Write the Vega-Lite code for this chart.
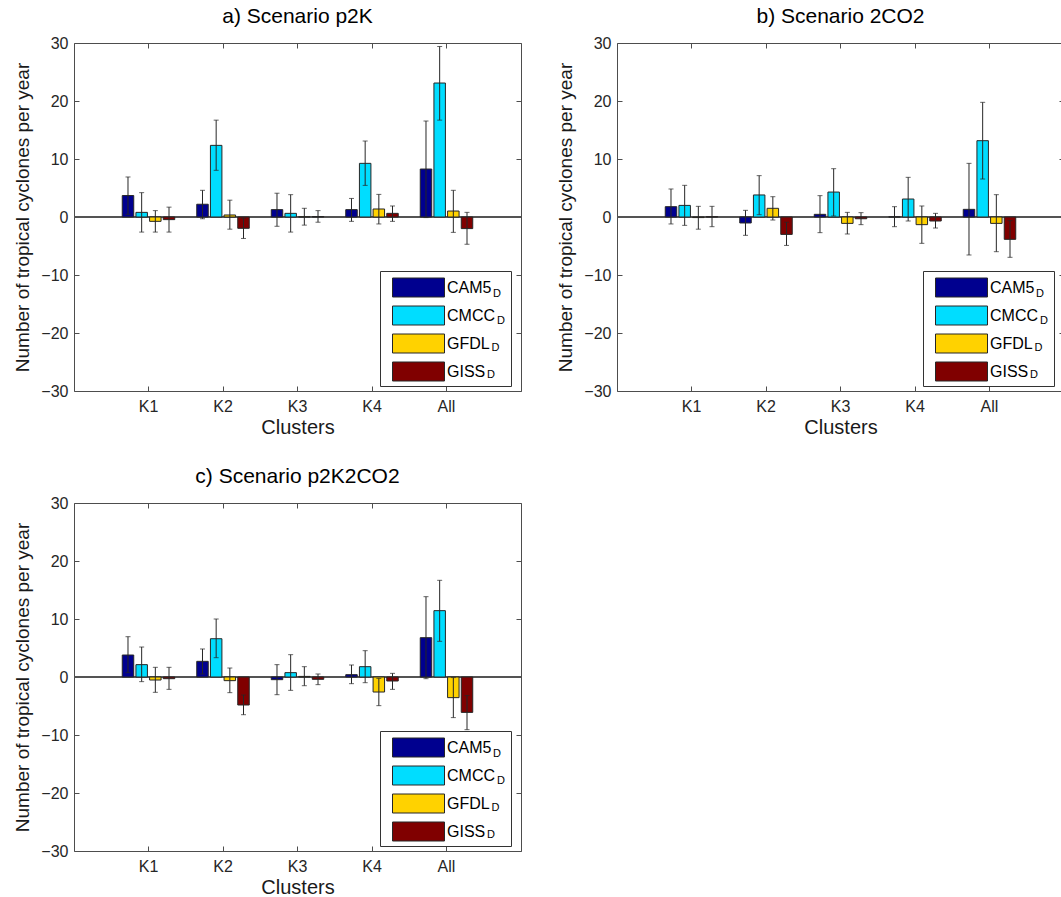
{
  "$schema": "https://vega.github.io/schema/vega-lite/v6.json",
  "padding": {"left": 13, "top": 6, "right": 0, "bottom": 0},
  "data": {"values": [
    {"scenario": "p2K", "cluster": "K1", "model": "CAM5", "value": 3.7, "lo": 0.45, "hi": 6.9},
    {"scenario": "p2K", "cluster": "K1", "model": "CMCC", "value": 0.8, "lo": -2.6, "hi": 4.2},
    {"scenario": "p2K", "cluster": "K1", "model": "GFDL", "value": -0.75, "lo": -2.6, "hi": 1.1},
    {"scenario": "p2K", "cluster": "K1", "model": "GISS", "value": -0.45, "lo": -2.6, "hi": 1.7},
    {"scenario": "p2K", "cluster": "K2", "model": "CAM5", "value": 2.2, "lo": -0.3, "hi": 4.6},
    {"scenario": "p2K", "cluster": "K2", "model": "CMCC", "value": 12.35, "lo": 8.05, "hi": 16.7},
    {"scenario": "p2K", "cluster": "K2", "model": "GFDL", "value": 0.35, "lo": -2.1, "hi": 2.9},
    {"scenario": "p2K", "cluster": "K2", "model": "GISS", "value": -1.95, "lo": -3.7, "hi": -0.2},
    {"scenario": "p2K", "cluster": "K3", "model": "CAM5", "value": 1.27, "lo": -1.6, "hi": 4.1},
    {"scenario": "p2K", "cluster": "K3", "model": "CMCC", "value": 0.63, "lo": -2.6, "hi": 3.85},
    {"scenario": "p2K", "cluster": "K3", "model": "GFDL", "value": 0.05, "lo": -1.4, "hi": 1.5},
    {"scenario": "p2K", "cluster": "K3", "model": "GISS", "value": 0.08, "lo": -0.9, "hi": 1.1},
    {"scenario": "p2K", "cluster": "K4", "model": "CAM5", "value": 1.27, "lo": -0.75, "hi": 3.2},
    {"scenario": "p2K", "cluster": "K4", "model": "CMCC", "value": 9.25, "lo": 5.45, "hi": 13.1},
    {"scenario": "p2K", "cluster": "K4", "model": "GFDL", "value": 1.38, "lo": -1.2, "hi": 3.9},
    {"scenario": "p2K", "cluster": "K4", "model": "GISS", "value": 0.63, "lo": -0.75, "hi": 1.9},
    {"scenario": "p2K", "cluster": "All", "model": "CAM5", "value": 8.27, "lo": -0.1, "hi": 16.55},
    {"scenario": "p2K", "cluster": "All", "model": "CMCC", "value": 23.1, "lo": 16.7, "hi": 29.4},
    {"scenario": "p2K", "cluster": "All", "model": "GFDL", "value": 1.03, "lo": -2.65, "hi": 4.6},
    {"scenario": "p2K", "cluster": "All", "model": "GISS", "value": -2.0, "lo": -4.7, "hi": 0.8},
    {"scenario": "2CO2", "cluster": "K1", "model": "CAM5", "value": 1.78, "lo": -1.2, "hi": 4.83},
    {"scenario": "2CO2", "cluster": "K1", "model": "CMCC", "value": 2.0, "lo": -1.44, "hi": 5.46},
    {"scenario": "2CO2", "cluster": "K1", "model": "GFDL", "value": -0.1, "lo": -2.1, "hi": 1.84},
    {"scenario": "2CO2", "cluster": "K1", "model": "GISS", "value": 0.05, "lo": -1.67, "hi": 1.84},
    {"scenario": "2CO2", "cluster": "K2", "model": "CAM5", "value": -1.03, "lo": -3.16, "hi": 1.15},
    {"scenario": "2CO2", "cluster": "K2", "model": "CMCC", "value": 3.8, "lo": 0.4, "hi": 7.13},
    {"scenario": "2CO2", "cluster": "K2", "model": "GFDL", "value": 1.5, "lo": -0.52, "hi": 3.5},
    {"scenario": "2CO2", "cluster": "K2", "model": "GISS", "value": -3.0, "lo": -4.9, "hi": -0.9},
    {"scenario": "2CO2", "cluster": "K3", "model": "CAM5", "value": 0.46, "lo": -2.7, "hi": 3.68},
    {"scenario": "2CO2", "cluster": "K3", "model": "CMCC", "value": 4.3, "lo": 0.17, "hi": 8.33},
    {"scenario": "2CO2", "cluster": "K3", "model": "GFDL", "value": -1.1, "lo": -2.93, "hi": 0.8},
    {"scenario": "2CO2", "cluster": "K3", "model": "GISS", "value": -0.3, "lo": -1.32, "hi": 0.75},
    {"scenario": "2CO2", "cluster": "K4", "model": "CAM5", "value": 0.02, "lo": -1.67, "hi": 1.78},
    {"scenario": "2CO2", "cluster": "K4", "model": "CMCC", "value": 3.1, "lo": -0.69, "hi": 6.84},
    {"scenario": "2CO2", "cluster": "K4", "model": "GFDL", "value": -1.32, "lo": -4.54, "hi": 1.9},
    {"scenario": "2CO2", "cluster": "K4", "model": "GISS", "value": -0.69, "lo": -1.9, "hi": 0.63},
    {"scenario": "2CO2", "cluster": "All", "model": "CAM5", "value": 1.32, "lo": -6.55, "hi": 9.25},
    {"scenario": "2CO2", "cluster": "All", "model": "CMCC", "value": 13.16, "lo": 6.55, "hi": 19.77},
    {"scenario": "2CO2", "cluster": "All", "model": "GFDL", "value": -1.1, "lo": -5.98, "hi": 3.85},
    {"scenario": "2CO2", "cluster": "All", "model": "GISS", "value": -3.85, "lo": -6.95, "hi": -0.63},
    {"scenario": "p2K2CO2", "cluster": "K1", "model": "CAM5", "value": 3.79, "lo": 0.75, "hi": 6.95},
    {"scenario": "p2K2CO2", "cluster": "K1", "model": "CMCC", "value": 2.13, "lo": -0.8, "hi": 5.17},
    {"scenario": "p2K2CO2", "cluster": "K1", "model": "GFDL", "value": -0.52, "lo": -2.64, "hi": 1.67},
    {"scenario": "p2K2CO2", "cluster": "K1", "model": "GISS", "value": -0.29, "lo": -2.13, "hi": 1.67},
    {"scenario": "p2K2CO2", "cluster": "K2", "model": "CAM5", "value": 2.7, "lo": 0.52, "hi": 4.83},
    {"scenario": "p2K2CO2", "cluster": "K2", "model": "CMCC", "value": 6.6, "lo": 3.33, "hi": 10.0},
    {"scenario": "p2K2CO2", "cluster": "K2", "model": "GFDL", "value": -0.63, "lo": -2.7, "hi": 1.55},
    {"scenario": "p2K2CO2", "cluster": "K2", "model": "GISS", "value": -4.83, "lo": -6.5, "hi": -3.1},
    {"scenario": "p2K2CO2", "cluster": "K3", "model": "CAM5", "value": -0.46, "lo": -3.05, "hi": 2.13},
    {"scenario": "p2K2CO2", "cluster": "K3", "model": "CMCC", "value": 0.75, "lo": -2.3, "hi": 3.85},
    {"scenario": "p2K2CO2", "cluster": "K3", "model": "GFDL", "value": 0.1, "lo": -1.5, "hi": 1.78},
    {"scenario": "p2K2CO2", "cluster": "K3", "model": "GISS", "value": -0.4, "lo": -1.32, "hi": 0.52},
    {"scenario": "p2K2CO2", "cluster": "K4", "model": "CAM5", "value": 0.4, "lo": -1.15, "hi": 2.07},
    {"scenario": "p2K2CO2", "cluster": "K4", "model": "CMCC", "value": 1.78, "lo": -0.98, "hi": 4.54},
    {"scenario": "p2K2CO2", "cluster": "K4", "model": "GFDL", "value": -2.59, "lo": -4.94, "hi": -0.24},
    {"scenario": "p2K2CO2", "cluster": "K4", "model": "GISS", "value": -0.69, "lo": -2.13, "hi": 0.63},
    {"scenario": "p2K2CO2", "cluster": "All", "model": "CAM5", "value": 6.78, "lo": -0.29, "hi": 13.85},
    {"scenario": "p2K2CO2", "cluster": "All", "model": "CMCC", "value": 11.44, "lo": 6.15, "hi": 16.67},
    {"scenario": "p2K2CO2", "cluster": "All", "model": "GFDL", "value": -3.56, "lo": -7.0, "hi": -0.1},
    {"scenario": "p2K2CO2", "cluster": "All", "model": "GISS", "value": -6.1, "lo": -9.08, "hi": -3.2}
  ]},
  "columns": 2,
  "spacing": {"row": 112, "column": 96},
  "bounds": "flush",
  "resolve": {"scale": {"color": "independent", "opacity": "independent"}, "legend": {"color": "independent", "opacity": "independent"}},
  "concat": [
    {
      "title": "a) Scenario p2K",
      "width": 447, "height": 348,
      "transform": [{"filter": "datum.scenario == 'p2K'"}],
      "resolve": {"axis": {"x": "independent", "y": "independent"}},
      "layer": [
        {"mark": {"type": "rule", "color": "#555555", "strokeWidth": 1},
         "encoding": {"y": {"datum": 0, "type": "quantitative", "scale": {"domain": [-30, 30]},
           "axis": {"orient": "right", "values": [-30, -20, -10, 0, 10, 20, 30], "tickSize": -5, "labels": false, "title": null}}}},
        {"mark": {"type": "bar", "stroke": "#262626", "strokeWidth": 1},
         "encoding": {
           "x": {"field": "cluster", "type": "nominal", "scale": {"domain": ["K1", "K2", "K3", "K4", "All"], "paddingInner": 0, "paddingOuter": 0.5},
             "axis": {"orient": "bottom", "tickSize": -5, "labelPadding": 12, "labelAngle": 0, "title": "Clusters", "titlePadding": 3, "titleFontSize": 20}},
           "xOffset": {"field": "model", "type": "nominal", "scale": {"domain": ["CAM5", "CMCC", "GFDL", "GISS"], "paddingInner": 0.16, "paddingOuter": 0.805}},
           "y": {"field": "value", "type": "quantitative", "scale": {"domain": [-30, 30]},
             "axis": {"orient": "left", "values": [-30, -20, -10, 0, 10, 20, 30], "tickSize": -5, "labelPadding": 11, "title": "Number of tropical cyclones per year", "titlePadding": 8}},
           "color": {"field": "model", "type": "nominal", "scale": {"domain": ["CAM5", "CMCC", "GFDL", "GISS"], "range": ["#00008F", "#00DDFF", "#FFD200", "#800000"]},
             "legend": {"orient": "none", "legendX": 306, "legendY": 228, "strokeColor": null, "fillColor": null}},
           "opacity": {"field": "model", "type": "nominal", "scale": {"range": [1, 1, 1, 1]},
             "legend": {"orient": "none", "legendX": 306, "legendY": 228, "strokeColor": "#333333", "fillColor": null, "symbolOpacity": 0, "symbolStrokeWidth": 0, "symbolFillColor": "transparent", "labelFontSize": 11, "labelBaseline": "top", "labelExpr": "'D'",
               "encode": {"labels": {"update": {"dx": {"signal": "datum.value == 'CAM5' ? 47 : datum.value == 'CMCC' ? 51 : datum.value == 'GFDL' ? 45.5 : 41"}, "dy": {"value": 1}}}}}}
         }},
        {"mark": {"type": "rule", "color": "#262626", "strokeWidth": 1},
         "encoding": {
           "x": {"field": "cluster", "type": "nominal", "axis": null},
           "xOffset": {"field": "model", "type": "nominal"},
           "y": {"field": "lo", "type": "quantitative", "axis": null},
           "y2": {"field": "hi"}
         }},
        {"mark": {"type": "tick", "color": "#262626", "thickness": 1, "size": 5},
         "encoding": {
           "x": {"field": "cluster", "type": "nominal", "axis": null},
           "xOffset": {"field": "model", "type": "nominal"},
           "y": {"field": "lo", "type": "quantitative", "axis": null}
         }},
        {"mark": {"type": "tick", "color": "#262626", "thickness": 1, "size": 5},
         "encoding": {
           "x": {"field": "cluster", "type": "nominal", "axis": {"orient": "top", "tickSize": -5, "labels": false, "title": null}},
           "xOffset": {"field": "model", "type": "nominal"},
           "y": {"field": "hi", "type": "quantitative", "axis": null}
         }}
      ]
    },
    {
      "title": "b) Scenario 2CO2",
      "width": 447, "height": 348,
      "transform": [{"filter": "datum.scenario == '2CO2'"}],
      "resolve": {"axis": {"x": "independent", "y": "independent"}},
      "layer": [
        {"mark": {"type": "rule", "color": "#555555", "strokeWidth": 1},
         "encoding": {"y": {"datum": 0, "type": "quantitative", "scale": {"domain": [-30, 30]},
           "axis": {"orient": "right", "values": [-30, -20, -10, 0, 10, 20, 30], "tickSize": -5, "labels": false, "title": null}}}},
        {"mark": {"type": "bar", "stroke": "#262626", "strokeWidth": 1},
         "encoding": {
           "x": {"field": "cluster", "type": "nominal", "scale": {"domain": ["K1", "K2", "K3", "K4", "All"], "paddingInner": 0, "paddingOuter": 0.5},
             "axis": {"orient": "bottom", "tickSize": -5, "labelPadding": 12, "labelAngle": 0, "title": "Clusters", "titlePadding": 3, "titleFontSize": 20}},
           "xOffset": {"field": "model", "type": "nominal", "scale": {"domain": ["CAM5", "CMCC", "GFDL", "GISS"], "paddingInner": 0.16, "paddingOuter": 0.805}},
           "y": {"field": "value", "type": "quantitative", "scale": {"domain": [-30, 30]},
             "axis": {"orient": "left", "values": [-30, -20, -10, 0, 10, 20, 30], "tickSize": -5, "labelPadding": 11, "title": "Number of tropical cyclones per year", "titlePadding": 8}},
           "color": {"field": "model", "type": "nominal", "scale": {"domain": ["CAM5", "CMCC", "GFDL", "GISS"], "range": ["#00008F", "#00DDFF", "#FFD200", "#800000"]},
             "legend": {"orient": "none", "legendX": 306, "legendY": 228, "strokeColor": null, "fillColor": null}},
           "opacity": {"field": "model", "type": "nominal", "scale": {"range": [1, 1, 1, 1]},
             "legend": {"orient": "none", "legendX": 306, "legendY": 228, "strokeColor": "#333333", "fillColor": null, "symbolOpacity": 0, "symbolStrokeWidth": 0, "symbolFillColor": "transparent", "labelFontSize": 11, "labelBaseline": "top", "labelExpr": "'D'",
               "encode": {"labels": {"update": {"dx": {"signal": "datum.value == 'CAM5' ? 47 : datum.value == 'CMCC' ? 51 : datum.value == 'GFDL' ? 45.5 : 41"}, "dy": {"value": 1}}}}}}
         }},
        {"mark": {"type": "rule", "color": "#262626", "strokeWidth": 1},
         "encoding": {
           "x": {"field": "cluster", "type": "nominal", "axis": null},
           "xOffset": {"field": "model", "type": "nominal"},
           "y": {"field": "lo", "type": "quantitative", "axis": null},
           "y2": {"field": "hi"}
         }},
        {"mark": {"type": "tick", "color": "#262626", "thickness": 1, "size": 5},
         "encoding": {
           "x": {"field": "cluster", "type": "nominal", "axis": null},
           "xOffset": {"field": "model", "type": "nominal"},
           "y": {"field": "lo", "type": "quantitative", "axis": null}
         }},
        {"mark": {"type": "tick", "color": "#262626", "thickness": 1, "size": 5},
         "encoding": {
           "x": {"field": "cluster", "type": "nominal", "axis": {"orient": "top", "tickSize": -5, "labels": false, "title": null}},
           "xOffset": {"field": "model", "type": "nominal"},
           "y": {"field": "hi", "type": "quantitative", "axis": null}
         }}
      ]
    },
    {
      "title": "c) Scenario p2K2CO2",
      "width": 447, "height": 348,
      "transform": [{"filter": "datum.scenario == 'p2K2CO2'"}],
      "resolve": {"axis": {"x": "independent", "y": "independent"}},
      "layer": [
        {"mark": {"type": "rule", "color": "#555555", "strokeWidth": 1},
         "encoding": {"y": {"datum": 0, "type": "quantitative", "scale": {"domain": [-30, 30]},
           "axis": {"orient": "right", "values": [-30, -20, -10, 0, 10, 20, 30], "tickSize": -5, "labels": false, "title": null}}}},
        {"mark": {"type": "bar", "stroke": "#262626", "strokeWidth": 1},
         "encoding": {
           "x": {"field": "cluster", "type": "nominal", "scale": {"domain": ["K1", "K2", "K3", "K4", "All"], "paddingInner": 0, "paddingOuter": 0.5},
             "axis": {"orient": "bottom", "tickSize": -5, "labelPadding": 12, "labelAngle": 0, "title": "Clusters", "titlePadding": 3, "titleFontSize": 20}},
           "xOffset": {"field": "model", "type": "nominal", "scale": {"domain": ["CAM5", "CMCC", "GFDL", "GISS"], "paddingInner": 0.16, "paddingOuter": 0.805}},
           "y": {"field": "value", "type": "quantitative", "scale": {"domain": [-30, 30]},
             "axis": {"orient": "left", "values": [-30, -20, -10, 0, 10, 20, 30], "tickSize": -5, "labelPadding": 11, "title": "Number of tropical cyclones per year", "titlePadding": 8}},
           "color": {"field": "model", "type": "nominal", "scale": {"domain": ["CAM5", "CMCC", "GFDL", "GISS"], "range": ["#00008F", "#00DDFF", "#FFD200", "#800000"]},
             "legend": {"orient": "none", "legendX": 306, "legendY": 228, "strokeColor": null, "fillColor": null}},
           "opacity": {"field": "model", "type": "nominal", "scale": {"range": [1, 1, 1, 1]},
             "legend": {"orient": "none", "legendX": 306, "legendY": 228, "strokeColor": "#333333", "fillColor": null, "symbolOpacity": 0, "symbolStrokeWidth": 0, "symbolFillColor": "transparent", "labelFontSize": 11, "labelBaseline": "top", "labelExpr": "'D'",
               "encode": {"labels": {"update": {"dx": {"signal": "datum.value == 'CAM5' ? 47 : datum.value == 'CMCC' ? 51 : datum.value == 'GFDL' ? 45.5 : 41"}, "dy": {"value": 1}}}}}}
         }},
        {"mark": {"type": "rule", "color": "#262626", "strokeWidth": 1},
         "encoding": {
           "x": {"field": "cluster", "type": "nominal", "axis": null},
           "xOffset": {"field": "model", "type": "nominal"},
           "y": {"field": "lo", "type": "quantitative", "axis": null},
           "y2": {"field": "hi"}
         }},
        {"mark": {"type": "tick", "color": "#262626", "thickness": 1, "size": 5},
         "encoding": {
           "x": {"field": "cluster", "type": "nominal", "axis": null},
           "xOffset": {"field": "model", "type": "nominal"},
           "y": {"field": "lo", "type": "quantitative", "axis": null}
         }},
        {"mark": {"type": "tick", "color": "#262626", "thickness": 1, "size": 5},
         "encoding": {
           "x": {"field": "cluster", "type": "nominal", "axis": {"orient": "top", "tickSize": -5, "labels": false, "title": null}},
           "xOffset": {"field": "model", "type": "nominal"},
           "y": {"field": "hi", "type": "quantitative", "axis": null}
         }}
      ]
    }
  ],
  "config": {
    "view": {"stroke": null},
    "font": "Liberation Sans",
    "axis": {"domainColor": "#4d4d4d", "tickColor": "#4d4d4d", "labelColor": "#262626", "titleColor": "#1a1a1a",
      "labelFont": "Liberation Sans", "titleFont": "Liberation Sans", "labelFontSize": 16, "titleFontSize": 19,
      "titleFontWeight": "normal", "grid": false, "tickWidth": 1, "domainWidth": 1},
    "title": {"font": "Liberation Sans", "fontSize": 21, "fontWeight": "normal", "frame": "group", "anchor": "middle", "offset": 8, "color": "#000000"},
    "legend": {"title": null, "padding": 6,
      "symbolType": "M-2.6,-0.95H2.6V0.95H-2.6Z", "symbolSize": 400, "symbolOffset": 22, "symbolStrokeColor": "#262626", "symbolStrokeWidth": 1, "symbolOpacity": 1,
      "labelFont": "Liberation Sans", "labelFontSize": 16, "labelColor": "#000000", "labelOffset": 18, "rowPadding": 5}
  }
}
